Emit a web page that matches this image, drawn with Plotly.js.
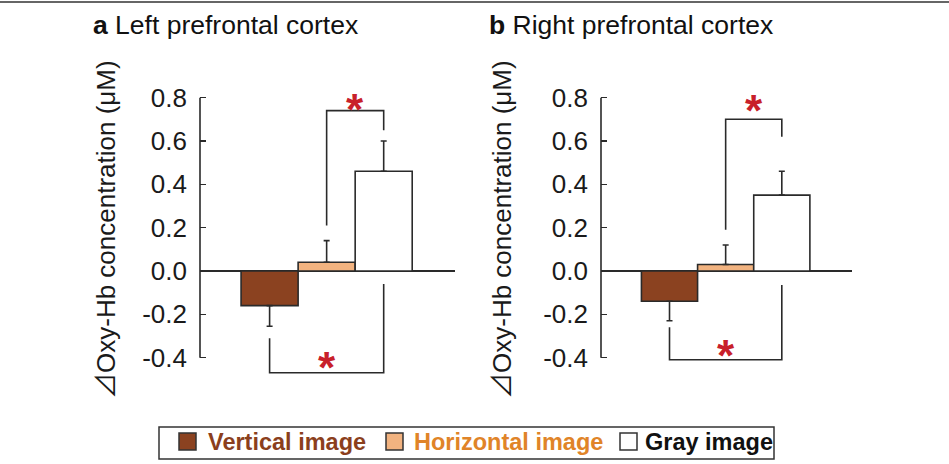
<!DOCTYPE html>
<html>
<head>
<meta charset="utf-8">
<script src="https://cdn.plot.ly/plotly-3.0.1.min.js"></script>
<style>
  html, body { margin: 0; padding: 0; background: #ffffff; }
  #chart { width: 949px; height: 464px; }
</style>
</head>
<body>
<div id="chart"></div>
<script>
// Conditions and bar positions
const conditions = ['Vertical image', 'Horizontal image', 'Gray image'];
const positions = [1, 2, 3];

// Mean change in oxy-Hb (µM) and standard error, per hemisphere
const leftMeans = [-0.16, 0.04, 0.46];
const leftErrors = [0.095, 0.10, 0.14];
const rightMeans = [-0.14, 0.03, 0.35];
const rightErrors = [0.09, 0.09, 0.11];

// Bar fills and legend label colours
const fillColors = ['#8b4220', '#f2b380', '#ffffff'];
const labelColors = ['#8b3f1d', '#e08428', '#111111'];

// Panel headings
const panelLetters = ['a', 'b'];
const panelTitles = ['Left prefrontal cortex', 'Right prefrontal cortex'];

// Y ticks
const yTickVals = [-0.4, -0.2, 0, 0.2, 0.4, 0.6, 0.8];
const yTickText = ['-0.4', '-0.2', '0.0', '0.2', '0.4', '0.6', '0.8'];
const yTitleMark = '\u22BF';
const yTitleText = 'Oxy-Hb concentration (\u03BCM)';

// Significance brackets: compared bars, then [left leg end, bar level, right leg end]
const upperPair = [2, 3];
const lowerPair = [1, 3];
const leftUpperBracket = [0.21, 0.74, 0.65];
const leftLowerBracket = [-0.31, -0.47, -0.06];
const rightUpperBracket = [0.19, 0.70, 0.62];
const rightLowerBracket = [-0.26, -0.41, -0.065];
const leftStarY = [0.79, -0.40];
const rightStarY = [0.785, -0.345];

const W = 949, H = 464;
const px = v => v / W;
const py = v => 1 - v / H;

const FONT = 'Liberation Sans, Arial, DejaVu Sans, sans-serif';
const INK = '#2a2a2a';
const STAR = '#c8202a';

function barTrace(means, errors, xa, ya) {
  return {
    type: 'bar',
    x: positions,
    y: means,
    width: 1,
    xaxis: xa, yaxis: ya,
    marker: { color: fillColors, line: { color: INK, width: 1.6 } },
    error_y: {
      type: 'data', symmetric: false, visible: true,
      array: means.map((m, i) => (m >= 0 ? errors[i] : 0)),
      arrayminus: means.map((m, i) => (m < 0 ? errors[i] : 0)),
      color: INK, thickness: 1.6, width: 3
    },
    hoverinfo: 'skip',
    showlegend: false
  };
}

function bracketTrace(pair, levels, xa, ya) {
  return {
    type: 'scatter', mode: 'lines',
    x: [pair[0], pair[0], pair[1], pair[1]],
    y: [levels[0], levels[1], levels[1], levels[2]],
    xaxis: xa, yaxis: ya,
    line: { color: INK, width: 1.6 },
    hoverinfo: 'skip', showlegend: false
  };
}

const traces = [
  barTrace(leftMeans, leftErrors, 'x', 'y'),
  bracketTrace(upperPair, leftUpperBracket, 'x', 'y'),
  bracketTrace(lowerPair, leftLowerBracket, 'x', 'y'),
  barTrace(rightMeans, rightErrors, 'x2', 'y2'),
  bracketTrace(upperPair, rightUpperBracket, 'x2', 'y2'),
  bracketTrace(lowerPair, rightLowerBracket, 'x2', 'y2')
];

const yDomain = [0.1825, 0.8129];

function xAxis(domain, anchor) {
  return {
    domain: domain, anchor: anchor, range: [-0.22, 4.25],
    showgrid: false, zeroline: false, showline: false,
    showticklabels: false, ticks: '', fixedrange: true
  };
}
function yAxis(anchor) {
  return {
    domain: yDomain, anchor: anchor, range: [-0.5, 0.85],
    tickvals: yTickVals, ticktext: yTickText,
    ticks: 'inside', ticklen: 6, tickwidth: 1.6, tickcolor: INK,
    ticklabelstandoff: 12,
    tickfont: { family: FONT, size: 26, color: '#1a1a1a' },
    showgrid: false, showline: false,
    zeroline: true, zerolinecolor: INK, zerolinewidth: 1.6,
    fixedrange: true
  };
}

const shapes = [
  // rule across the top of the figure
  { type: 'line', xref: 'paper', yref: 'paper', x0: 0, x1: 1, y0: py(2), y1: py(2),
    line: { color: '#333333', width: 1.5 } },
  // y axis spines limited to the tick span
  { type: 'line', xref: 'x domain', yref: 'y', x0: 0, x1: 0,
    y0: yTickVals[0], y1: yTickVals[yTickVals.length - 1], line: { color: INK, width: 1.6 } },
  { type: 'line', xref: 'x2 domain', yref: 'y2', x0: 0, x1: 0,
    y0: yTickVals[0], y1: yTickVals[yTickVals.length - 1], line: { color: INK, width: 1.6 } },
  // legend frame
  { type: 'rect', xref: 'paper', yref: 'paper', x0: px(159), x1: px(774), y0: py(459), y1: py(427),
    line: { color: '#333333', width: 1.5 }, fillcolor: 'rgba(0,0,0,0)' }
];

const annotations = [];

// panel headings
const headingX = [91, 487];
panelTitles.forEach((t, i) => {
  annotations.push({
    xref: 'paper', yref: 'paper', x: px(headingX[i]), y: py(25),
    xanchor: 'left', yanchor: 'middle', showarrow: false,
    text: '<b>' + panelLetters[i] + '</b> ' + t,
    font: { family: FONT, size: 26.5, color: '#111111' }
  });
});

// y axis titles
[103, 499].forEach(x => {
  annotations.push({
    xref: 'paper', yref: 'paper', x: px(x), y: py(230),
    xanchor: 'center', yanchor: 'middle', showarrow: false, textangle: -90,
    text: '<span style="font-family:\'Noto Sans CJK JP\'">' + yTitleMark + '</span>' + yTitleText,
    font: { family: FONT, size: 26, color: '#1a1a1a' }
  });
});

// significance stars
function stars(xa, ya, starY) {
  const mids = [(upperPair[0] + upperPair[1]) / 2, (lowerPair[0] + lowerPair[1]) / 2];
  mids.forEach((m, i) => {
    annotations.push({
      xref: xa, yref: ya, x: m, y: starY[i], yshift: -10,
      xanchor: 'center', yanchor: 'middle', showarrow: false,
      text: '<b>*</b>',
      font: { family: FONT, size: 44, color: STAR }
    });
  });
}
stars('x', 'y', leftStarY);
stars('x2', 'y2', rightStarY);

// legend: swatches and coloured labels
const swatchX = [179, 386, 620];
const labelX = [206, 412, 643];
conditions.forEach((c, i) => {
  shapes.push({
    type: 'rect', xref: 'paper', yref: 'paper',
    x0: px(swatchX[i]), x1: px(swatchX[i] + 17), y0: py(450), y1: py(433),
    fillcolor: fillColors[i], line: { color: '#333333', width: 1.5 }
  });
  annotations.push({
    xref: 'paper', yref: 'paper', x: px(labelX[i]), y: py(442),
    xanchor: 'left', yanchor: 'middle', showarrow: false,
    text: '<b>' + c + '</b>',
    font: { family: FONT, size: 23.5, color: labelColors[i] }
  });
});

const layout = {
  width: W, height: H,
  margin: { l: 0, r: 0, t: 0, b: 0 },
  paper_bgcolor: '#ffffff', plot_bgcolor: 'rgba(0,0,0,0)',
  showlegend: false,
  barmode: 'group', bargap: 0,
  xaxis: xAxis([px(200), px(455)], 'y'),
  yaxis: yAxis('x'),
  xaxis2: xAxis([px(601), px(852)], 'y2'),
  yaxis2: yAxis('x2'),
  shapes: shapes,
  annotations: annotations
};

Plotly.newPlot('chart', traces, layout, { displayModeBar: false, staticPlot: true });
</script>
</body>
</html>
